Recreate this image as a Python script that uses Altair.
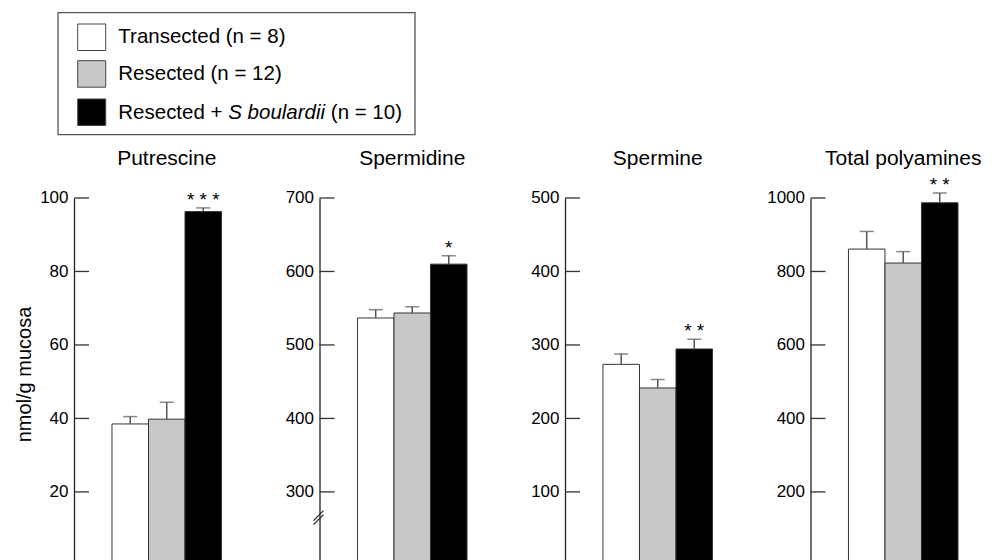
import altair as alt
import pandas as pd

groups = ["Transected (n = 8)", "Resected (n = 12)", "Resected + S boulardii (n = 10)"]
colors = ["#ffffff", "#c8c8c8", "#000000"]
panels = ["Putrescine", "Spermidine", "Spermine", "Total polyamines"]

putrescine = [38.5, 39.8, 96.3]
putrescine_sem = [2.0, 4.6, 1.0]
spermidine = [536.7, 543.5, 610.0]
spermidine_sem = [11.3, 8.5, 11.5]
spermine = [273.6, 241.5, 294.5]
spermine_sem = [14.1, 11.5, 13.2]
total = [861.0, 823.0, 987.0]
total_sem = [48.0, 31.0, 26.6]

stars = [["", "", "* * *"], ["", "", "*"], ["", "", "* *"], ["", "", "* *"]]
domains = [[0, 100], [200, 700], [0, 500], [0, 1000]]
ticks = [[20, 40, 60, 80, 100], [300, 400, 500, 600, 700],
         [100, 200, 300, 400, 500], [200, 400, 600, 800, 1000]]
axis_break = [None, [255.5, 269.1, 260.9, 274.5], None, None]

means = [putrescine, spermidine, spermine, total]
sems = [putrescine_sem, spermidine_sem, spermine_sem, total_sem]

W = 147.5
H = 367.4
FONT = "Liberation Sans"
LINE = "#555555"
TXT = "#000000"


def panel(i):
    df = pd.DataFrame({
        "group": groups,
        "mean": means[i],
        "upper": [m + s for m, s in zip(means[i], sems[i])],
        "star": stars[i],
    })
    ysc = alt.Scale(domain=domains[i], nice=False, zero=False)
    axis = alt.Axis(
        values=ticks[i], ticks=False, grid=False, domain=True, format="d",
        domainColor="#222222", domainWidth=1.3,
        labelFont=FONT, labelFontSize=17, labelColor=TXT, labelPadding=6,
        title="nmol/g mucosa" if i == 0 else "",
        titleFont=FONT, titleFontSize=20, titleFontWeight="normal", titleColor=TXT,
        titleX=-40, titleY=176,
    )
    xenc = alt.X("group:N", scale=alt.Scale(domain=groups, paddingInner=0, paddingOuter=0.52, align=1), axis=None)
    base = alt.Chart(df)
    bars = base.mark_bar(stroke="#333333", strokeWidth=1).encode(
        x=xenc,
        y=alt.Y("mean:Q", scale=ysc, axis=axis),
        y2=alt.datum(domains[i][0]),
        fill=alt.Fill("group:N", scale=alt.Scale(domain=groups, range=colors), legend=None),
    )
    stem = base.mark_rule(color=LINE, strokeWidth=1.5).encode(
        x=xenc, y=alt.Y("mean:Q", scale=ysc, axis=axis), y2="upper:Q")
    cap = base.mark_tick(orient="horizontal", size=14, thickness=1.5, color=LINE).encode(
        x=xenc, y=alt.Y("upper:Q", scale=ysc, axis=axis))
    star = base.mark_text(baseline="alphabetic", dy=-2, fontSize=19, font=FONT, color=TXT).encode(
        x=xenc, y=alt.Y("upper:Q", scale=ysc, axis=axis), text="star:N")
    tdf = pd.DataFrame({"t": ticks[i]})
    tk = alt.Chart(tdf).mark_rule(color="#333333", strokeWidth=1.3).encode(
        x=alt.value(0), x2=alt.value(15), y=alt.Y("t:Q", scale=ysc, axis=axis))
    title = alt.Chart(pd.DataFrame({"p": [panels[i]]})).mark_text(
        fontSize=21, font=FONT, color=TXT, baseline="alphabetic").encode(
        x=alt.datum(groups[1]), y=alt.value(-33.3), text="p:N")
    layers = [bars, stem, cap, star, tk, title]
    if axis_break[i] is not None:
        b = axis_break[i]
        bdf = pd.DataFrame({"y1": [b[0], b[2]], "y2": [b[1], b[3]]})
        br = alt.Chart(bdf).mark_rule(color="#222222", strokeWidth=1.2).encode(
            x=alt.value(-6), x2=alt.value(4),
            y=alt.Y("y1:Q", scale=ysc, axis=axis), y2="y2:Q")
        layers.append(br)
    if i == 0:
        one = alt.Chart(pd.DataFrame({"k": [0]}))
        box = one.mark_rect(fill="#ffffff", fillOpacity=0, stroke="#555555", strokeWidth=1.3).encode(
            x=alt.value(-16), x2=alt.value(341), y=alt.value(-185.3), y2=alt.value(-63.3))
        layers.append(box)
        tops = [-174.0, -137.3, -99.0]
        for g, c, t in zip(groups, colors, tops):
            sw = one.mark_rect(fill=c, stroke="#444444", strokeWidth=1).encode(
                x=alt.value(3.7), x2=alt.value(31.7), y=alt.value(t), y2=alt.value(t + 26.5))
            layers.append(sw)
        fs = 20.5
        lab_kw = dict(fontSize=fs, font=FONT, color=TXT, baseline="middle", align="left")
        layers.append(one.mark_text(**lab_kw).encode(
            x=alt.value(44.3), y=alt.value(-161.0), text=alt.datum(groups[0])))
        layers.append(one.mark_text(**lab_kw).encode(
            x=alt.value(44.3), y=alt.value(-123.8), text=alt.datum(groups[1])))
        parts = ["Resected + ", "S boulardii", "(n = 10)"]
        w0 = 5.364 * fs
        w1 = 4.724 * fs
        sp = 0.278 * fs
        layers.append(one.mark_text(**lab_kw).encode(
            x=alt.value(44.3), y=alt.value(-85.3), text=alt.datum(parts[0])))
        layers.append(one.mark_text(fontStyle="italic", **lab_kw).encode(
            x=alt.value(44.3 + w0), y=alt.value(-85.3), text=alt.datum(parts[1])))
        layers.append(one.mark_text(**lab_kw).encode(
            x=alt.value(44.3 + w0 + w1 + sp), y=alt.value(-85.3), text=alt.datum(parts[2])))
    return alt.layer(*layers).properties(width=W, height=H)


chart = alt.hconcat(*[panel(i) for i in range(4)], spacing=245 - W, bounds="flush").properties(
    padding={"left": 6, "top": 4, "right": 0, "bottom": 0}
).configure(font=FONT).configure_view(strokeWidth=0)

chart.save("out.html", embed_options={"renderer": "svg", "actions": False})
